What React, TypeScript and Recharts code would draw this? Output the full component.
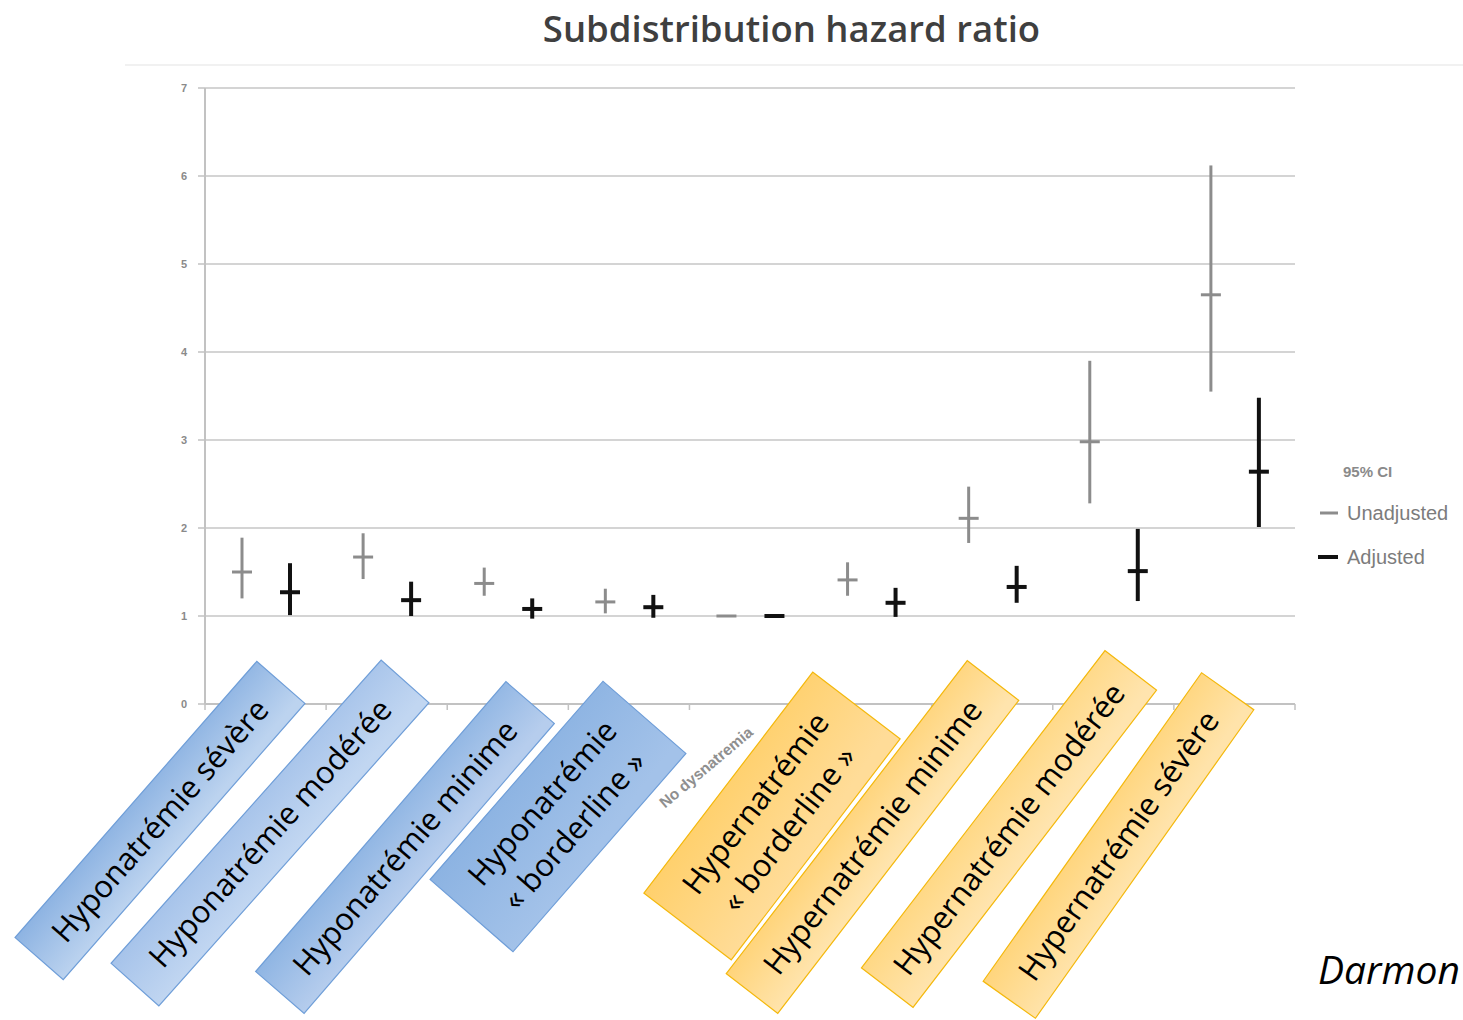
import React from 'react';
import { ComposedChart, Bar, ErrorBar, XAxis, YAxis, CartesianGrid } from 'recharts';

// ---------- data ----------
const categories = [
  'Hyponatrémie sévère',
  'Hyponatrémie modérée',
  'Hyponatrémie minime',
  'Hyponatrémie « borderline »',
  'No dysnatremia',
  'Hypernatrémie « borderline »',
  'Hypernatrémie minime',
  'Hypernatrémie modérée',
  'Hypernatrémie sévère',
];
const unadjusted = [1.5, 1.67, 1.37, 1.16, 1.0, 1.41, 2.11, 2.98, 4.65];
const unadjustedLow = [1.2, 1.42, 1.23, 1.03, 1.0, 1.23, 1.83, 2.28, 3.55];
const unadjustedHigh = [1.89, 1.94, 1.55, 1.31, 1.0, 1.61, 2.47, 3.9, 6.12];
const adjusted = [1.27, 1.18, 1.08, 1.1, 1.0, 1.15, 1.33, 1.51, 2.64];
const adjustedLow = [1.01, 1.0, 0.97, 0.98, 1.0, 0.99, 1.15, 1.17, 2.01];
const adjustedHigh = [1.6, 1.39, 1.2, 1.24, 1.0, 1.32, 1.57, 1.99, 3.48];
const yTicks = [0, 1, 2, 3, 4, 5, 6, 7];

const data = categories.map((name, i) => ({
  name,
  unadj: unadjusted[i],
  unadjErr: [unadjusted[i] - unadjustedLow[i], unadjustedHigh[i] - unadjusted[i]],
  adj: adjusted[i],
  adjErr: [adjusted[i] - adjustedLow[i], adjustedHigh[i] - adjusted[i]],
}));

// ---------- layout ----------
const W = 1463;
const H = 1020;
const MARGIN = { top: 88, right: 168, bottom: 286, left: 145 };
const Y_AXIS_W = 60;
const X_AXIS_H = 30;
const PLOT_LEFT = MARGIN.left + Y_AXIS_W;
const PLOT_RIGHT = W - MARGIN.right;
const PLOT_BOTTOM = H - MARGIN.bottom - X_AXIS_H;
const BAND = (PLOT_RIGHT - PLOT_LEFT) / categories.length;
const AXIS_COLOR = '#c2c2c2';
const FONT = "'Open Sans', 'Noto Sans', sans-serif";

type Box = { cx: number; cy: number; len: number; thick: number; angle: number; c1: string; c2: string; border: string };
const BLUE_B = '#6f9ed8';
const ORANGE_B = '#f4b80c';
const BOXES: (Box | null)[] = [
  { cx: 160, cy: 820.5, len: 367, thick: 64, angle: 48.8, c1: '#8db3e2', c2: '#bcd3ef', border: BLUE_B },
  { cx: 270, cy: 833, len: 406, thick: 64, angle: 48.3, c1: '#a6c3ea', c2: '#c1d6f1', border: BLUE_B },
  { cx: 405, cy: 847.5, len: 383, thick: 64, angle: 49.2, c1: '#8fb5e3', c2: '#b6cded', border: BLUE_B },
  { cx: 558, cy: 816.5, len: 263, thick: 110, angle: 48.9, c1: '#8cb3e2', c2: '#a3c2e9', border: BLUE_B },
  null,
  { cx: 772, cy: 816, len: 278, thick: 110, angle: 52.6, c1: '#ffd06c', c2: '#ffdc98', border: ORANGE_B },
  { cx: 872.5, cy: 837, len: 395, thick: 65, angle: 52.4, c1: '#ffd47a', c2: '#ffe4ad', border: ORANGE_B },
  { cx: 1009, cy: 829, len: 400, thick: 65, angle: 52.5, c1: '#ffd884', c2: '#ffe4ae', border: ORANGE_B },
  { cx: 1118.5, cy: 845.5, len: 378, thick: 64, angle: 54.7, c1: '#ffd57c', c2: '#ffe3aa', border: ORANGE_B },
];

const splitLines = (name: string) =>
  name.includes('«') ? [name.split(' « ')[0], '« ' + name.split(' « ')[1]] : [name];

const renderXTick = (props: any) => {
  const { x, index, payload } = props;
  const left = x - BAND / 2;
  const box = BOXES[index];
  const lines = splitLines(String(payload.value));
  return (
    <g>
      <line x1={left} x2={left} y1={PLOT_BOTTOM} y2={PLOT_BOTTOM + 6} stroke={AXIS_COLOR} strokeWidth={1.5} />
      {index === categories.length - 1 && (
        <line x1={x + BAND / 2} x2={x + BAND / 2} y1={PLOT_BOTTOM} y2={PLOT_BOTTOM + 6} stroke={AXIS_COLOR} strokeWidth={1.5} />
      )}
      {box ? (
        <g transform={`translate(${box.cx},${box.cy}) rotate(${-box.angle})`}>
          <defs>
            <linearGradient id={`boxg${index}`} x1="0" y1="0" x2="0.15" y2="1">
              <stop offset="0" stopColor={box.c1} />
              <stop offset="1" stopColor={box.c2} />
            </linearGradient>
          </defs>
          <rect
            x={-box.len / 2}
            y={-box.thick / 2}
            width={box.len}
            height={box.thick}
            fill={`url(#boxg${index})`}
            stroke={box.border}
            strokeWidth={1.2}
          />
          <text textAnchor="middle" fontFamily={FONT} fontSize={31} fill="#000">
            {lines.map((l, k) => (
              <tspan key={k} x={0} y={(k - (lines.length - 1) / 2) * 42 + 11}>
                {l}
              </tspan>
            ))}
          </text>
        </g>
      ) : (
        <text
          x={x + 4}
          y={PLOT_BOTTOM + 30}
          transform={`rotate(-40, ${x + 4}, ${PLOT_BOTTOM + 30})`}
          textAnchor="end"
          fontFamily="'Liberation Sans', Arial, sans-serif"
          fontWeight={700}
          fontSize={15.5}
          fill="#8f8f8f"
        >
          {payload.value}
        </text>
      )}
    </g>
  );
};

const makeCenterTick = (color: string, sw: number, half: number) => (props: any) => {
  const { x, y, width } = props;
  if (x == null || y == null) return <g />;
  const cx = x + width / 2;
  return <line x1={cx - half} x2={cx + half} y1={y} y2={y} stroke={color} strokeWidth={sw} />;
};

const UNADJ_COLOR = '#8c8c8c';
const ADJ_COLOR = '#111111';

export default function App() {
  return (
    <div style={{ position: 'absolute', left: 0, top: 0, width: W, height: H, overflow: 'hidden', background: '#fff' }}>
      <ComposedChart width={W} height={H} data={data} margin={MARGIN} barGap={0}>
        <CartesianGrid vertical={false} stroke="#c6c6c6" strokeWidth={1.6} />
        <XAxis
          dataKey="name"
          interval={0}
          height={X_AXIS_H}
          tickLine={false}
          axisLine={{ stroke: AXIS_COLOR, strokeWidth: 2 }}
          tick={renderXTick}
        />
        <YAxis
          width={Y_AXIS_W}
          domain={[0, 7]}
          ticks={yTicks}
          interval={0}
          tickSize={7}
          tickMargin={11}
          axisLine={{ stroke: AXIS_COLOR, strokeWidth: 2 }}
          tickLine={{ stroke: AXIS_COLOR, strokeWidth: 1.5 }}
          tick={{ fontSize: 11, fill: '#8a8a8a', fontWeight: 700, fontFamily: "'Liberation Sans', Arial, sans-serif" }}
        />
        <Bar dataKey="unadj" barSize={48} isAnimationActive={false} shape={makeCenterTick(UNADJ_COLOR, 3, 10)}>
          <ErrorBar dataKey="unadjErr" width={0} stroke={UNADJ_COLOR} strokeWidth={3} isAnimationActive={false} />
        </Bar>
        <Bar dataKey="adj" barSize={48} isAnimationActive={false} shape={makeCenterTick(ADJ_COLOR, 4, 10)}>
          <ErrorBar dataKey="adjErr" width={0} stroke={ADJ_COLOR} strokeWidth={4} isAnimationActive={false} />
        </Bar>
      </ComposedChart>
      <svg width={W} height={H} style={{ position: 'absolute', left: 0, top: 0, pointerEvents: 'none' }}>
        <text x={791.5} y={42} textAnchor="middle" fontFamily={FONT} fontWeight={600} fontSize={36.5} fill="#3f3f3f">
          Subdistribution hazard ratio
        </text>
        <line x1={125} x2={W} y1={65} y2={65} stroke="#ececec" strokeWidth={1.5} />
        <text x={1343} y={477} fontFamily="'Liberation Sans', Arial, sans-serif" fontWeight={700} fontSize={15} fill="#8a8a8a">
          95% CI
        </text>
        <line x1={1320} x2={1338} y1={513} y2={513} stroke={UNADJ_COLOR} strokeWidth={3} />
        <text x={1347} y={520} fontFamily="'Liberation Sans', Arial, sans-serif" fontSize={20} fill="#7c7c7c">
          Unadjusted
        </text>
        <line x1={1318} x2={1338} y1={557} y2={557} stroke={ADJ_COLOR} strokeWidth={4} />
        <text x={1347} y={564} fontFamily="'Liberation Sans', Arial, sans-serif" fontSize={20} fill="#7c7c7c">
          Adjusted
        </text>
        <text x={1318} y={984} fontFamily={FONT} fontStyle="italic" fontSize={39} fill="#000">
          Darmon
        </text>
      </svg>
    </div>
  );
}
